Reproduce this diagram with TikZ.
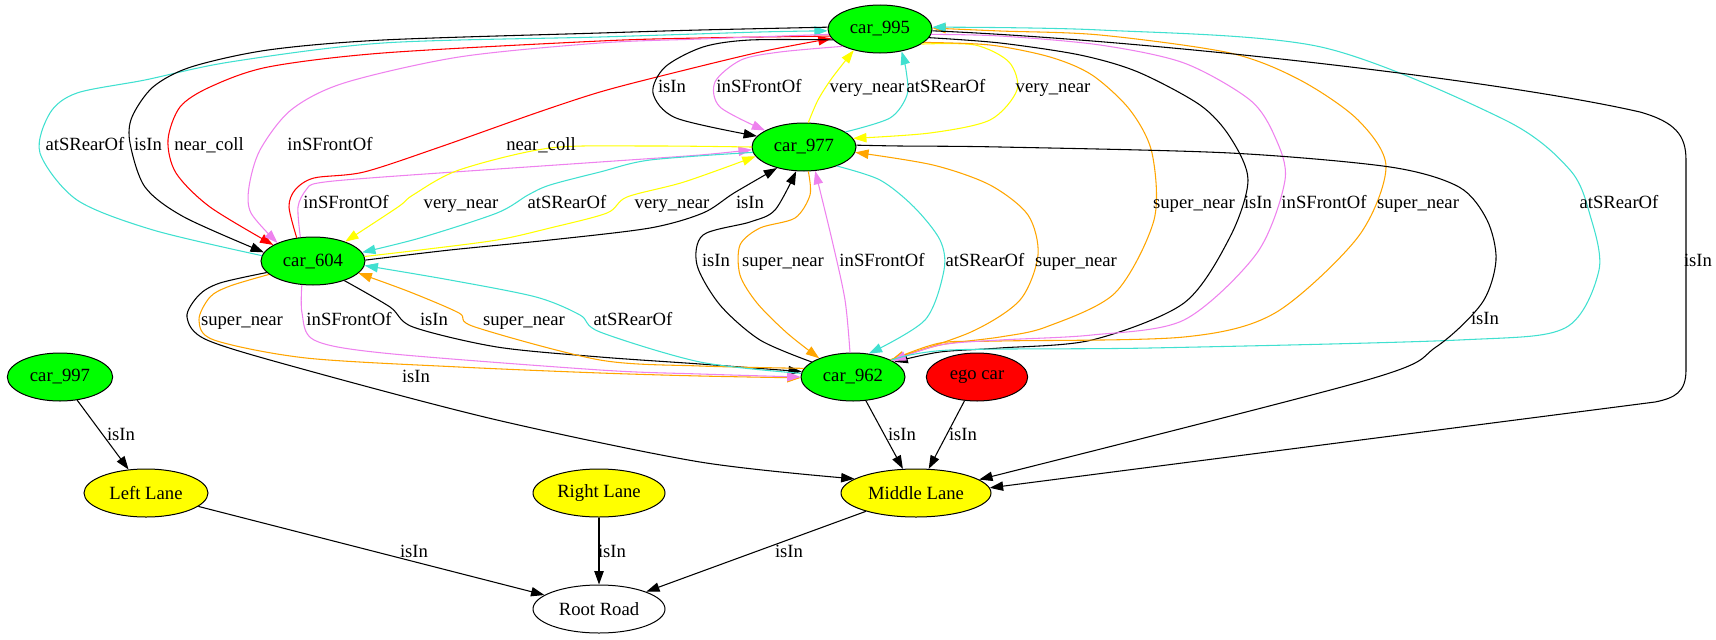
\documentclass[tikz,border=0pt]{standalone}
\usepackage{fontspec}
\setmainfont{Liberation Serif}
\usetikzlibrary{shapes.geometric,arrows.meta}
\definecolor{gvturq}{HTML}{40E0D0}
\definecolor{gvviol}{HTML}{EE82EE}
\definecolor{gvorange}{HTML}{FFA500}
\definecolor{gvyellow}{HTML}{FFFF00}
\definecolor{gvred}{HTML}{FF0000}
\definecolor{gvgreen}{HTML}{00FF00}
\begin{document}
\begin{tikzpicture}[x=0.75pt,y=-0.75pt,
  every node/.style={font=\fontsize{14pt}{16pt}\selectfont},
  obj/.style={ellipse, draw, line width=0.75pt, inner sep=0pt, minimum height=36pt, minimum width=78pt},
  car/.style={obj, fill=gvgreen},
  lane/.style={obj, fill=gvyellow},
  rel/.style={line width=0.8pt, -{Triangle[length=10pt,width=7pt]}},
  lbl/.style={anchor=base, inner sep=0pt, yshift=-4.5pt},
]
\useasboundingbox (0,0) rectangle (1716,639);

% objects
\node[car] (c995) at (880,29) {car\_995};
\node[car] (c977) at (804,147) {car\_977};
\node[car] (c604) at (313,261) {car\_604};
\node[car] (c962) at (853,377) {car\_962};
\node[obj, fill=gvred, minimum width=76pt] (ego) at (977,377) {ego car};
\node[car, minimum width=79pt] (c997) at (60,377) {car\_997};
\node[lane, minimum width=93pt] (left) at (146,493) {Left Lane};
\node[lane, minimum width=99pt] (right) at (599,493) {Right Lane};
\node[lane, minimum width=112.5pt] (middle) at (916,493) {Middle Lane};
\node[obj, minimum width=99pt] (root) at (599,609) {Root Road};

% car_604 <-> car_995 (left loops)
\draw[rel, gvturq] plot[smooth] coordinates {(c604.174) (153,230) (77,200) (40,153) (50,113) (77,93) (145,80) (230,62) (383,43) (600,37) (760,32) (c995.182)};
\draw[rel] plot[smooth] coordinates {(c995.178) (700,30) (600,33) (383,40) (268,50) (191,67) (153,87) (132,117) (130,143) (145,187) (184,217) (c604.170)};
\draw[rel, gvred] plot[smooth] coordinates {(c995.188) (700,38) (600,41) (383,53) (268,67) (210,87) (180,107) (168,140) (176,173) (210,207) (c604.158)};
\draw[rel, gvviol] plot[smooth] coordinates {(c995.186) (700,39) (600,43) (459,57) (344,83) (291,110) (260,150) (249,187) (251,213) (c604.153)};
\draw[rel, gvred] plot[smooth] coordinates {(c604.125) (289,207) (295,190) (314,178) (364,172) (440,147) (536,113) (600,92) (665,75) (760,52) (c995.191)};

% car_604 <-> car_977
\draw[rel, gvviol] plot[smooth] coordinates {(c604.118) (298,207) (306,190) (318,183) (383,177) (600,162) (700,155) (c977.183)};
\draw[rel, gvyellow] plot[smooth] coordinates {(c977.180) (650,146) (550,148) (459,170) (413,195) (398,207) (c604.31)};
\draw[rel, gvturq] plot[smooth] coordinates {(c977.186) (650,160) (600,172) (550,185) (528,195) (497,213) (420,238) (c604.10)};
\draw[rel, gvyellow] plot[smooth] coordinates {(c604.5) (420,250) (497,240) (550,228) (607,213) (627,197) (684,182) (c977.191)};
\draw[rel] plot[smooth] coordinates {(c604.1) (450,250) (550,240) (650,228) (703,213) (734,193) (c977.218)};

% car_995 <-> car_977
\draw[rel] plot[smooth] coordinates {(c995.193) (750,40) (703,47) (665,67) (653,93) (676,118) (c977.167)};
\draw[rel, gvviol] plot[smooth] coordinates {(c995.205) (780,52) (741,60) (715,82) (720,107) (c977.157)};
\draw[rel, gvyellow] plot[smooth] coordinates {(c977.80) (818,100) (832,78) (c995.219)};
\draw[rel, gvturq] plot[smooth] coordinates {(c977.20) (890,118) (907,95) (906,70) (c995.314)};
\draw[rel, gvyellow] plot[smooth] coordinates {(c995.340) (975,45) (1009,62) (1017,90) (990,120) (930,133) (c977.10)};

% car_977 <-> car_962
\draw[rel] plot[smooth] coordinates {(c962.160) (760,340) (720,305) (697,265) (703,235) (750,222) (775,210) (c977.252)};
\draw[rel, gvorange] plot[smooth] coordinates {(c977.280) (810,195) (795,218) (760,228) (740,245) (740,275) (757,303) (787,333) (c962.151)};
\draw[rel, gvviol] plot[smooth] coordinates {(c962.97) (845,300) (832,240) (c977.295)};
\draw[rel, gvturq] plot[smooth] coordinates {(c977.330) (880,180) (914,207) (940,240) (944,270) (925,320) (c962.56)};
\draw[rel, gvorange] plot[smooth] coordinates {(c962.25) (971,332) (1020,300) (1038,255) (1028,215) (990,185) (933,165) (c977.354)};

% car_995 <-> car_962 (right loops)
\draw[rel] plot[smooth] coordinates {(c995.350) (1000,43) (1080,55) (1138,72) (1200,105) (1230,137) (1248,180) (1230,237) (1184,303) (1092,340) (1000,348) (940,352) (c962.20)};
\draw[rel, gvorange] plot[smooth] coordinates {(c995.343) (990,45) (1050,57) (1092,75) (1130,110) (1152,153) (1154,220) (1115,293) (1046,327) (1000,337) (940,345) (c962.24)};
\draw[rel, gvorange] plot[smooth] coordinates {(c962.24) (940,343) (1000,341) (1184,337) (1275,313) (1358,237) (1386,167) (1358,120) (1300,80) (1230,53) (1100,35) (1000,31) (c995.1)};
\draw[rel, gvviol] plot[smooth] coordinates {(c995.354) (1000,36) (1100,45) (1184,63) (1250,100) (1275,137) (1285,180) (1257,253) (1184,320) (1092,335) (1000,340) (940,345) (c962.22)};
\draw[rel, gvturq] plot[smooth] coordinates {(c962.24) (950,350) (1150,348) (1459,340) (1565,328) (1599,270) (1590,215) (1570,170) (1505,120) (1321,47) (1100,30) (c995.2)};

% to Middle Lane from above
\draw[rel] (c995.358) .. controls (1150,40) and (1500,80) .. (1640,112)
  .. controls (1675,122) and (1686,135) .. (1686,160) -- (1686,370)
  .. controls (1686,392) and (1675,398) .. (1655,402) -- (middle.4);
\draw[rel] plot[smooth] coordinates {(c977.2) (900,146) (1000,147) (1230,153) (1390,167) (1459,187) (1487,220) (1496,260) (1482,303) (1436,347) (1367,380) (middle.12)};
\draw[rel] plot[smooth] coordinates {(c604.194) (220,283) (199,295) (187,317) (207,340) (306,370) (497,420) (700,462) (middle.167)};

% car_604 <-> car_962
\draw[rel] plot[smooth] coordinates {(c604.328) (390,307) (413,327) (497,347) (600,357) (700,364) (c962.174)};
\draw[rel, gvorange] plot[smooth] coordinates {(c604.197) (230,286) (210,297) (199,320) (214,340) (306,358) (459,367) (600,373) (700,376) (c962.181)};
\draw[rel, gvviol] plot[smooth] coordinates {(c604.245) (302,313) (314,340) (383,353) (600,370) (700,374) (c962.180)};
\draw[rel, gvorange] plot[smooth] coordinates {(c962.170) (700,366) (600,360) (475,327) (459,313) (410,292) (c604.345)};
\draw[rel, gvturq] plot[smooth] coordinates {(c962.176) (700,362) (600,332) (580,315) (536,297) (450,280) (c604.355)};

% straight relations
\draw[rel] (c997) -- (left);
\draw[rel] (c962) -- (middle);
\draw[rel] (ego) -- (middle);
\draw[rel] (left) -- (root);
\draw[rel] (right) -- (root);
\draw[rel] (middle) -- (root);

% relation labels
\node[lbl] (t1) at (85,144) {atSRearOf};
\node[lbl] (t2) at (148,144) {isIn};
\node[lbl] (t3) at (209,144) {near\_coll};
\node[lbl] (t4) at (330,144) {inSFrontOf};
\node[lbl] (t5) at (541,144) {near\_coll};
\node[lbl] (t6) at (346,202) {inSFrontOf};
\node[lbl] (t7) at (461,202) {very\_near};
\node[lbl] (t8) at (567,202) {atSRearOf};
\node[lbl] (t9) at (672,202) {very\_near};
\node[lbl] (t10) at (750,202) {isIn};
\node[lbl] (t11) at (672,86) {isIn};
\node[lbl] (t12) at (759,86) {inSFrontOf};
\node[lbl] (t13) at (867,86) {very\_near};
\node[lbl] (t14) at (946,86) {atSRearOf};
\node[lbl] (t15) at (1053,86) {very\_near};
\node[lbl] (t16) at (716,260) {isIn};
\node[lbl] (t17) at (783,260) {super\_near};
\node[lbl] (t18) at (882,260) {inSFrontOf};
\node[lbl] (t19) at (985,260) {atSRearOf};
\node[lbl] (t20) at (1076,260) {super\_near};
\node[lbl] (t21) at (1194,202) {super\_near};
\node[lbl] (t22) at (1258,202) {isIn};
\node[lbl] (t23) at (1324,202) {inSFrontOf};
\node[lbl] (t24) at (1418,202) {super\_near};
\node[lbl] (t25) at (1619,202) {atSRearOf};
\node[lbl] (t26) at (1698,260) {isIn};
\node[lbl] (t27) at (1485,318) {isIn};
\node[lbl] (t28) at (242,319) {super\_near};
\node[lbl] (t29) at (349,319) {inSFrontOf};
\node[lbl] (t30) at (434,319) {isIn};
\node[lbl] (t31) at (524,319) {super\_near};
\node[lbl] (t32) at (633,319) {atSRearOf};
\node[lbl] (t33) at (416,376) {isIn};
\node[lbl] (t34) at (121,434) {isIn};
\node[lbl] (t35) at (902,434) {isIn};
\node[lbl] (t36) at (963,434) {isIn};
\node[lbl] (t37) at (414,551) {isIn};
\node[lbl] (t38) at (612,551) {isIn};
\node[lbl] (t39) at (789,551) {isIn};
\end{tikzpicture}
\end{document}
